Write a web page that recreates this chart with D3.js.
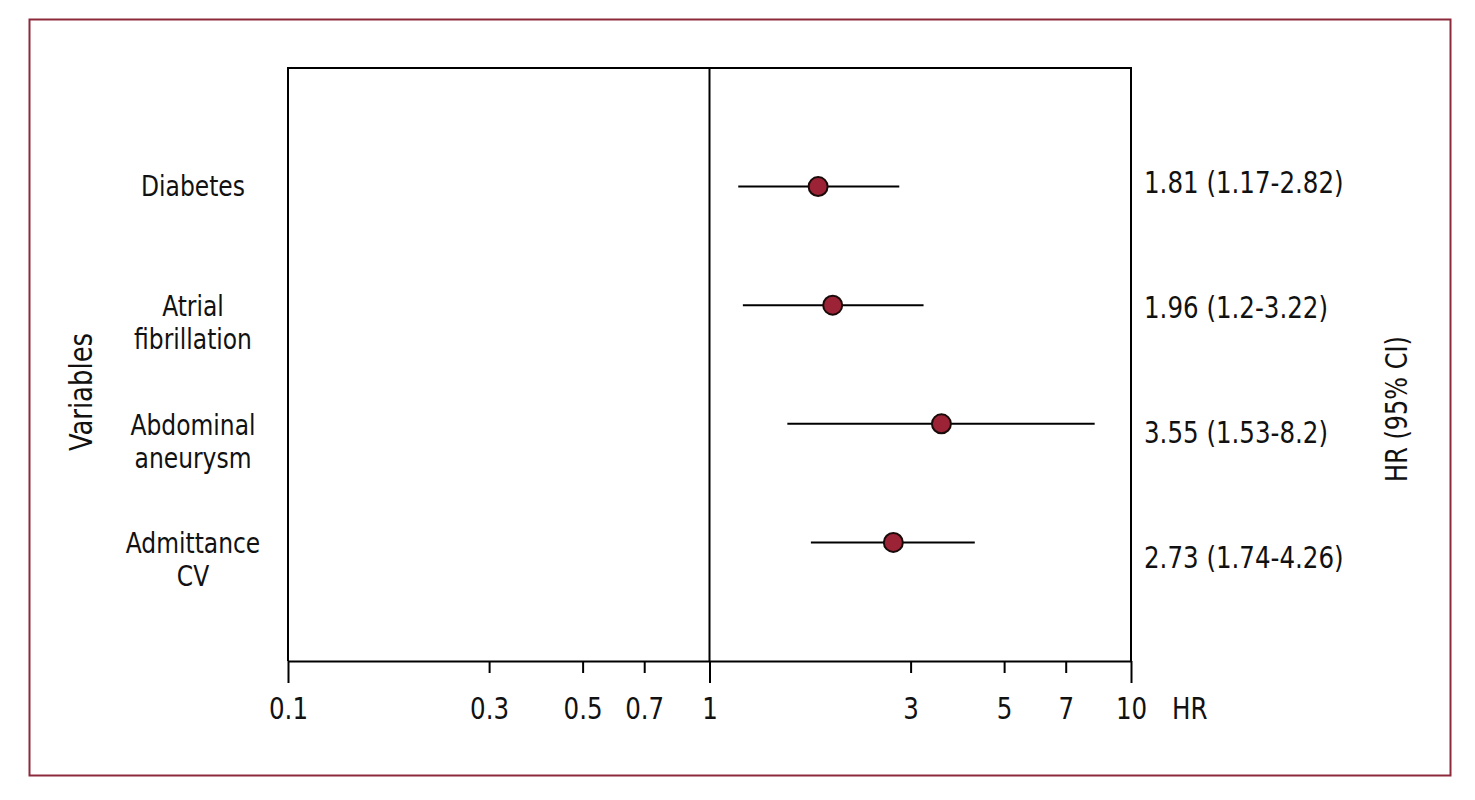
<!DOCTYPE html>
<meta charset="utf-8">
<style>
  body { margin: 0; background: #fff; }
  text { font-family: "Liberation Sans Narrow", "DejaVu Sans Condensed", sans-serif; fill: #111; }
</style>
<script src="https://d3js.org/d3.v7.min.js"></script>
<div id="chart"></div>
<script>
// data
var variables = ["Diabetes", "Atrial fibrillation", "Abdominal aneurysm", "Admittance CV"];
var labelLines = [["Diabetes"], ["Atrial", "fibrillation"], ["Abdominal", "aneurysm"], ["Admittance", "CV"]];
var hr = [1.81, 1.96, 3.55, 2.73];
var lower = [1.17, 1.2, 1.53, 1.74];
var upper = [2.82, 3.22, 8.2, 4.26];
var tickValues = [0.1, 0.3, 0.5, 0.7, 1, 3, 5, 7, 10];
var tickLabels = ["0.1", "0.3", "0.5", "0.7", "1", "3", "5", "7", "10"];
var majorTicks = [0.1, 1, 10];

var width = 1475, height = 800;
var plot = {left: 288, right: 1131, top: 68, bottom: 661};
var squeeze = "scale(0.88,1)";

var svg = d3.select("#chart").append("svg")
    .attr("width", width)
    .attr("height", height);

// outer frame
svg.append("rect")
    .attr("x", 29.5).attr("y", 19.5)
    .attr("width", 1421).attr("height", 756)
    .attr("fill", "none")
    .attr("stroke", "#8c2a3c")
    .attr("stroke-width", 2);

var x = d3.scaleLog()
    .domain([0.1, 10])
    .range([plot.left, plot.right]);

var y = d3.scalePoint()
    .domain(variables)
    .range([plot.top, plot.bottom])
    .padding(1);

// the right-hand labels sit on their own, slightly wider spacing
var yRight = d3.scalePoint()
    .domain(variables)
    .range([193, 568]);

// plot box (top, left, right); bottom is the axis
svg.append("path")
    .attr("d", "M" + plot.left + "," + plot.bottom + "V" + plot.top + "H" + plot.right + "V" + plot.bottom)
    .attr("fill", "none")
    .attr("stroke", "#000")
    .attr("stroke-width", 2);

// reference line at HR = 1
svg.append("line")
    .attr("x1", x(1)).attr("x2", x(1))
    .attr("y1", plot.top).attr("y2", plot.bottom)
    .attr("stroke", "#000")
    .attr("stroke-width", 2);

// x axis
var xAxis = svg.append("g")
    .attr("transform", "translate(0," + plot.bottom + ")")
    .call(d3.axisBottom(x)
      .tickValues(tickValues)
      .tickFormat(function(d, i) { return tickLabels[i]; })
      .tickSizeOuter(0));

xAxis.select(".domain").attr("stroke-width", 2);
xAxis.selectAll(".tick line")
    .attr("stroke-width", 2)
    .attr("y2", function(d) { return majorTicks.indexOf(d) >= 0 ? 22 : 12; });
xAxis.selectAll(".tick text")
    .attr("y", 58)
    .attr("dy", null)
    .attr("font-family", null)
    .attr("transform", squeeze)
    .style("font-size", "31px");

svg.append("text")
    .attr("transform", "translate(1172," + (plot.bottom + 58) + ") " + squeeze)
    .style("font-size", "31px")
    .text("HR");

// confidence intervals
svg.selectAll(".ci")
  .data(variables)
  .enter().append("line")
    .attr("class", "ci")
    .attr("x1", function(d, i) { return x(lower[i]); })
    .attr("x2", function(d, i) { return x(upper[i]); })
    .attr("y1", function(d) { return y(d); })
    .attr("y2", function(d) { return y(d); })
    .attr("stroke", "#000")
    .attr("stroke-width", 2);

// point estimates
svg.selectAll(".pt")
  .data(variables)
  .enter().append("circle")
    .attr("class", "pt")
    .attr("cx", function(d, i) { return x(hr[i]); })
    .attr("cy", function(d) { return y(d); })
    .attr("r", 9.5)
    .attr("fill", "#9b2335")
    .attr("stroke", "#1a0a0a")
    .attr("stroke-width", 2);

// variable labels on the left
var lab = svg.selectAll(".varlab")
  .data(variables)
  .enter().append("text")
    .attr("class", "varlab")
    .attr("text-anchor", "middle")
    .attr("transform", function(d) { return "translate(193," + y(d) + ") scale(0.93,1)"; })
    .style("font-size", "28px");

lab.each(function(d, i) {
  var lines = labelLines[i];
  var t = d3.select(this);
  lines.forEach(function(s, j) {
    t.append("tspan")
      .attr("x", 0)
      .attr("y", (lines.length == 1 ? 9 : 11) + j * 33)
      .text(s);
  });
});

// HR (95% CI) labels on the right
svg.selectAll(".hrlab")
  .data(variables)
  .enter().append("text")
    .attr("class", "hrlab")
    .attr("transform", function(d) { return "translate(1144," + yRight(d) + ") " + squeeze; })
    .style("font-size", "31px")
    .text(function(d, i) { return hr[i] + " (" + lower[i] + "-" + upper[i] + ")"; });

// axis titles
svg.append("text")
    .attr("transform", "translate(92,392) rotate(-90) scale(0.9,1)")
    .attr("text-anchor", "middle")
    .style("font-size", "32px")
    .text("Variables");

svg.append("text")
    .attr("transform", "translate(1407,409) rotate(-90) scale(0.86,1)")
    .attr("text-anchor", "middle")
    .style("font-size", "31px")
    .text("HR (95% CI)");
</script>
